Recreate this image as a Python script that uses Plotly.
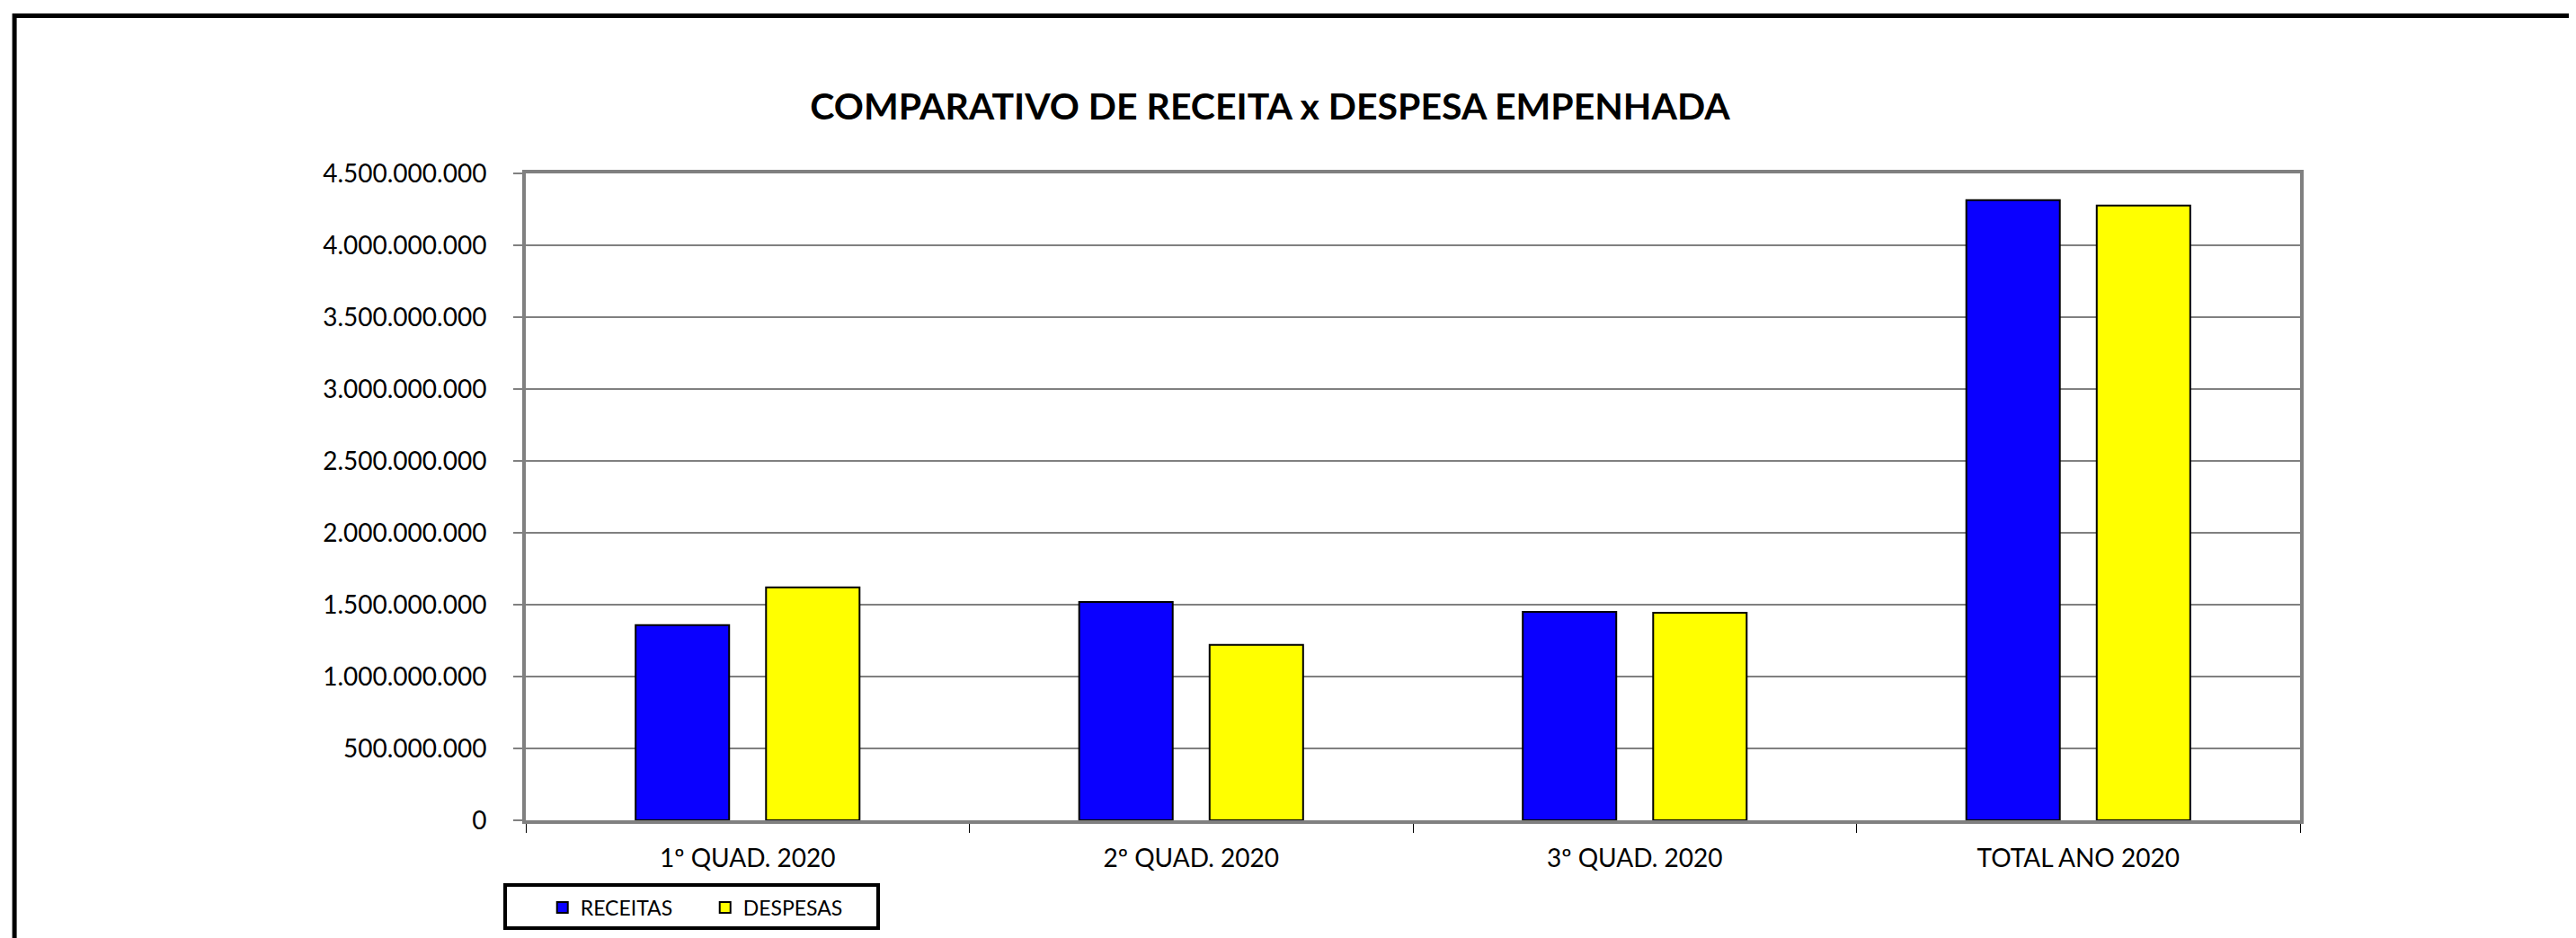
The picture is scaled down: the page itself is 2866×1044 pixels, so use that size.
import plotly.graph_objects as go

# dados
categorias = ["1º QUAD. 2020", "2º QUAD. 2020", "3º QUAD. 2020", "TOTAL ANO 2020"]
receitas = [1358000000, 1519000000, 1450000000, 4314000000]
despesas = [1621000000, 1221000000, 1444000000, 4277000000]
y_ticks = [0, 500000000, 1000000000, 1500000000, 2000000000,
           2500000000, 3000000000, 3500000000, 4000000000, 4500000000]

FONTE = "Lato"
W, H = 2858, 1036  # a página tem 8px de margem no body

fig = go.Figure()
fig.add_trace(go.Bar(
    x=categorias, y=receitas, name="RECEITAS",
    marker=dict(color="#0A00FF", line=dict(color="black", width=2)),
))
fig.add_trace(go.Bar(
    x=categorias, y=despesas, name="DESPESAS",
    marker=dict(color="#FFFF00", line=dict(color="black", width=2)),
))

fig.update_layout(
    width=W, height=H,
    margin=dict(l=577, r=W - 577 - 1974, t=185, b=H - 185 - 720),
    paper_bgcolor="white", plot_bgcolor="white",
    separators=",.",
    barmode="group", bargap=0.412, bargroupgap=0.283,
    font=dict(family=FONTE, size=28, color="black"),
    title=dict(
        text="COMPARATIVO DE RECEITA x DESPESA EMPENHADA",
        font=dict(family=FONTE, size=41, color="black", weight="bold"),
        x=1405 / W, xanchor="center", xref="container",
        y=1 - 111 / H, yanchor="middle", yref="container",
    ),
    legend=dict(
        orientation="h", x=0.0105, y=-0.1347, xanchor="left", yanchor="middle",
        borderwidth=0, bgcolor="rgba(0,0,0,0)",
        entrywidth=136, entrywidthmode="pixels",
        font=dict(family=FONTE, size=23, color="black"),
    ),
    showlegend=True,
)

fig.update_xaxes(
    showline=True, linecolor="#808080", linewidth=4, mirror=True,
    ticks="outside", tickson="boundaries", ticklen=10, tickcolor="black", tickwidth=1,
    ticklabelstandoff=14,
    tickfont=dict(family=FONTE, size=28, color="black"),
    showgrid=False,
)
fig.update_yaxes(
    range=[0, 4500000000], tickvals=y_ticks, tickformat=",d",
    showline=True, linecolor="#808080", linewidth=4, mirror=True,
    ticks="outside", ticklen=10, tickcolor="#808080", tickwidth=2,
    ticklabelstandoff=24,
    tickfont=dict(family=FONTE, size=28, color="black"),
    showgrid=True, gridcolor="#808080", gridwidth=1.5,
    zeroline=False,
)

# moldura externa do gráfico
fig.add_shape(
    type="rect", xref="paper", yref="paper",
    x0=-0.2882, x1=1.2, y0=-0.25, y1=1.2438,
    line=dict(color="black", width=5), fillcolor="rgba(0,0,0,0)",
    layer="above",
)
# caixa da legenda
fig.add_shape(
    type="rect", xref="paper", yref="paper",
    x0=-0.01165, x1=0.19858, y0=-0.1667, y1=-0.1,
    line=dict(color="black", width=4), fillcolor="rgba(0,0,0,0)",
    layer="above",
)

fig.write_html("out.html")
